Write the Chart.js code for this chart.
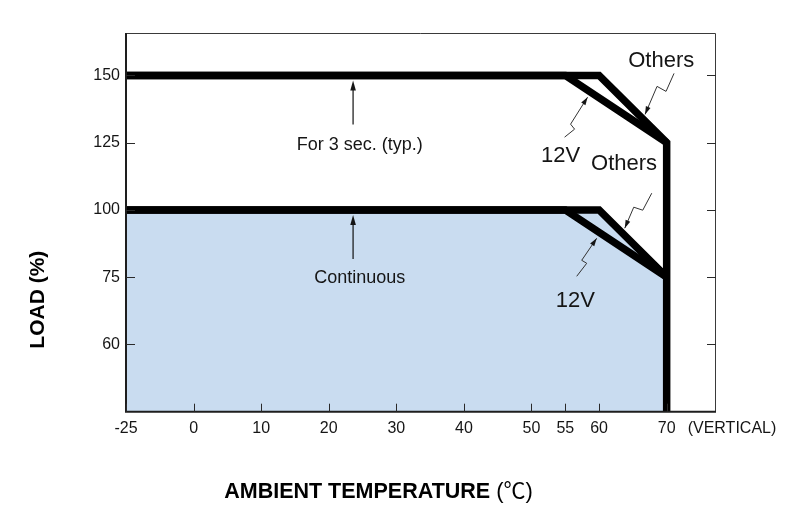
<!DOCTYPE html>
<html>
<head>
<meta charset="utf-8">
<script src="https://cdn.jsdelivr.net/npm/chart.js@4.4.1/dist/chart.umd.min.js"></script>
<style>
  html, body { margin: 0; background: #fff; }
  #wrap { width: 800px; height: 517px; }
</style>
</head>
<body>
<div id="wrap"><canvas id="c"></canvas></div>
<script>
// axis ticks (the axes are not linear: each tick step gets the same width)
const TEMP_TICKS = [-25, 0, 10, 20, 30, 40, 50, 55, 60, 70];
const LOAD_TICKS = [60, 75, 100, 125, 150];
// value -> slot breakpoints for the two axes
const TEMP_BREAKS = [[-25, 0], [0, 1], [70, 8]];
const LOAD_BREAKS = [[45, 0], [60, 1], [75, 2], [150, 5]];

// derating curves
const PEAK_12V_T = [-25, 55, 70];
const PEAK_12V_LOAD = [150, 150, 125];
const PEAK_OTHERS_T = [-25, 60, 70, 70];
const PEAK_OTHERS_LOAD = [150, 150, 125, 45];
const CONT_12V_T = [-25, 55, 70];
const CONT_12V_LOAD = [100, 100, 75];
const CONT_OTHERS_T = [-25, 60, 70];
const CONT_OTHERS_LOAD = [100, 100, 75];

const FONT = '"Liberation Sans", Arial, "Noto Sans CJK SC", sans-serif';
const INK = "#151515";
const FILL = "rgb(201,220,240)";

// linear scale that maps values through breakpoints
class PiecewiseScale extends Chart.LinearScale {
  static id = "piecewise";
  static defaults = Chart.LinearScale.defaults;
  toSlot(v) {
    const b = this.options.breaks;
    let i = 1;
    while (i < b.length - 1 && v > b[i][0]) i++;
    const [v0, s0] = b[i - 1], [v1, s1] = b[i];
    return s0 + ((v - v0) * (s1 - s0)) / (v1 - v0);
  }
  fromSlot(s) {
    const b = this.options.breaks;
    let i = 1;
    while (i < b.length - 1 && s > b[i][1]) i++;
    const [v0, s0] = b[i - 1], [v1, s1] = b[i];
    return v0 + ((s - s0) * (v1 - v0)) / (s1 - s0);
  }
  buildTicks() {
    return this.options.tickValues.map((value) => ({ value }));
  }
  configure() {
    super.configure();
    this._s0 = this.toSlot(this.min);
    this._s1 = this.toSlot(this.max);
  }
  getPixelForValue(v) {
    return this.getPixelForDecimal((this.toSlot(v) - this._s0) / (this._s1 - this._s0));
  }
  getValueForPixel(p) {
    return this.fromSlot(this._s0 + this.getDecimalForPixel(p) * (this._s1 - this._s0));
  }
}
Chart.register(PiecewiseScale);

const pts = (xs, ys) => xs.map((x, i) => ({ x, y: ys[i] }));

function line(data, extra) {
  return Object.assign({
    data,
    borderColor: "#000",
    borderWidth: 7.5,
    pointRadius: 0,
    tension: 0,
    borderJoinStyle: "miter",
    borderCapStyle: "butt",
    fill: false,
  }, extra);
}

function arrowHead(ctx, tx, ty, fx, fy, len, half) {
  const a = Math.atan2(ty - fy, tx - fx);
  ctx.beginPath();
  ctx.moveTo(tx, ty);
  ctx.lineTo(tx - len * Math.cos(a) + half * Math.sin(a), ty - len * Math.sin(a) - half * Math.cos(a));
  ctx.lineTo(tx - len * Math.cos(a) - half * Math.sin(a), ty - len * Math.sin(a) + half * Math.cos(a));
  ctx.closePath();
  ctx.fill();
}

// zigzag leader from a label to the curve it names
function leader(ctx, tx, ty, offs) {
  ctx.beginPath();
  ctx.moveTo(tx, ty);
  offs.forEach(([dx, dy]) => ctx.lineTo(tx + dx, ty + dy));
  ctx.stroke();
  arrowHead(ctx, tx, ty, tx + offs[0][0], ty + offs[0][1], 8, 2.5);
}

const decor = {
  id: "decor",
  afterDraw(chart) {
    const { ctx, chartArea: a, scales: { x, y } } = chart;
    const X = (t) => x.getPixelForValue(t);
    const Y = (l) => y.getPixelForValue(l);
    ctx.save();

    // frame
    ctx.strokeStyle = "#3a3a3a";
    ctx.lineWidth = 1;
    ctx.beginPath();
    ctx.moveTo(a.left, a.top + 0.5);
    ctx.lineTo(a.right - 0.5, a.top + 0.5);
    ctx.lineTo(a.right - 0.5, a.bottom);
    ctx.stroke();
    ctx.strokeStyle = "#1e1e1e";
    ctx.lineWidth = 2;
    ctx.beginPath();
    ctx.moveTo(a.left, a.top);
    ctx.lineTo(a.left, a.bottom);
    ctx.lineTo(a.right, a.bottom);
    ctx.stroke();

    // inward tick marks
    ctx.lineWidth = 1;
    ctx.strokeStyle = "#2a2a2a";
    ctx.beginPath();
    LOAD_TICKS.forEach((v) => {
      const p = Math.round(Y(v)) + 0.5;
      ctx.moveTo(a.left, p); ctx.lineTo(a.left + 9, p);
      ctx.moveTo(a.right, p); ctx.lineTo(a.right - 9, p);
    });
    TEMP_TICKS.forEach((v) => {
      const p = Math.round(X(v)) + 0.5;
      ctx.moveTo(p, a.bottom); ctx.lineTo(p, a.bottom - 8);
    });
    ctx.stroke();

    ctx.fillStyle = INK;
    ctx.font = "16px " + FONT;
    ctx.textAlign = "left";
    ctx.textBaseline = "middle";
    ctx.fillText("(VERTICAL)", X(70) + 21, a.bottom + 17);

    // vertical arrows
    ctx.strokeStyle = "#111";
    ctx.lineWidth = 1.2;
    [150, 100].forEach((lv) => {
      const ax = X(23.6), tip = Y(lv) + 5;
      ctx.beginPath();
      ctx.moveTo(ax, Y(lv) + 49);
      ctx.lineTo(ax, tip + 4);
      ctx.stroke();
      arrowHead(ctx, ax, tip, ax, tip + 20, 10, 2.8);
    });

    ctx.textAlign = "center";
    ctx.textBaseline = "alphabetic";
    ctx.font = "18px " + FONT;
    ctx.fillText("For 3 sec. (typ.)", X(24.6), Y(150) + 75);
    ctx.fillText("Continuous", X(24.6), Y(100) + 73);

    ctx.font = "22px " + FONT;
    ctx.fillText("Others", X(69.2), Y(153.2));
    ctx.fillText("12V", X(54.3), Y(117.9));
    ctx.fillText("Others", X(63.7), Y(114.8));
    ctx.fillText("12V", X(56.5), Y(68.4));

    ctx.strokeStyle = "#333";
    ctx.lineWidth = 1;
    leader(ctx, X(66.8), Y(135.5), [[12, -28], [21, -23], [29, -41]]);
    leader(ctx, X(58.3), Y(141.9), [[-17, 27], [-13, 32], [-23, 40]]);
    leader(ctx, X(63.8), Y(93.2), [[9, -21], [18, -18], [27, -35]]);
    leader(ctx, X(59.65), Y(89.45), [[-15, 22], [-10, 25], [-20, 38]]);

    // axis titles
    ctx.fillStyle = "#000";
    ctx.font = "bold 21px " + FONT;
    ctx.save();
    ctx.translate(a.left - 88, a.bottom - 112);
    ctx.rotate(-Math.PI / 2);
    ctx.textAlign = "center";
    ctx.textBaseline = "middle";
    ctx.fillText("LOAD (%)", 0, 0);
    ctx.restore();

    const bold = "AMBIENT TEMPERATURE ";
    const unit = "(℃)";
    ctx.font = "bold 21.5px " + FONT;
    const wb = ctx.measureText(bold).width;
    ctx.font = "22px " + FONT;
    const wu = ctx.measureText(unit).width;
    const x0 = a.left + 252.5 - (wb + wu) / 2;
    const by = a.bottom + 86.6;
    ctx.textAlign = "left";
    ctx.font = "bold 21.5px " + FONT;
    ctx.fillText(bold, x0, by);
    ctx.font = "22px " + FONT;
    ctx.fillText(unit, x0 + wb, by);

    ctx.restore();
  },
};

Chart.defaults.font.family = FONT;
Chart.defaults.color = INK;

new Chart(document.getElementById("c"), {
  type: "line",
  data: {
    datasets: [
      line(pts(PEAK_12V_T, PEAK_12V_LOAD)),
      line(pts(PEAK_OTHERS_T, PEAK_OTHERS_LOAD)),
      line(pts(CONT_12V_T, CONT_12V_LOAD)),
      line(pts(CONT_OTHERS_T, CONT_OTHERS_LOAD), { fill: "start", backgroundColor: FILL }),
    ],
  },
  options: {
    responsive: true,
    maintainAspectRatio: false,
    animation: false,
    events: [],
    layout: { padding: { top: 33, right: 84, left: 0, bottom: 0 } },
    plugins: {
      legend: { display: false },
      tooltip: { enabled: false },
      filler: { drawTime: "beforeDatasetsDraw" },
    },
    scales: {
      x: {
        type: "piecewise",
        breaks: TEMP_BREAKS,
        tickValues: TEMP_TICKS,
        min: -25,
        max: 77.3,
        grid: { display: false, drawTicks: false },
        border: { display: false },
        ticks: { autoSkip: false, maxRotation: 0, padding: 7, font: { size: 16 }, color: INK, callback: (v) => String(v) },
        afterFit: (s) => { s.height = 105.3; },
      },
      y: {
        type: "piecewise",
        breaks: LOAD_BREAKS,
        tickValues: LOAD_TICKS,
        min: 45,
        max: 165.75,
        grid: { display: false, drawTicks: false },
        border: { display: false },
        ticks: { autoSkip: false, padding: 6, font: { size: 16 }, color: INK, callback: (v) => String(v) },
        afterFit: (s) => { s.width = 126; },
      },
    },
  },
  plugins: [decor],
});
</script>
</body>
</html>
